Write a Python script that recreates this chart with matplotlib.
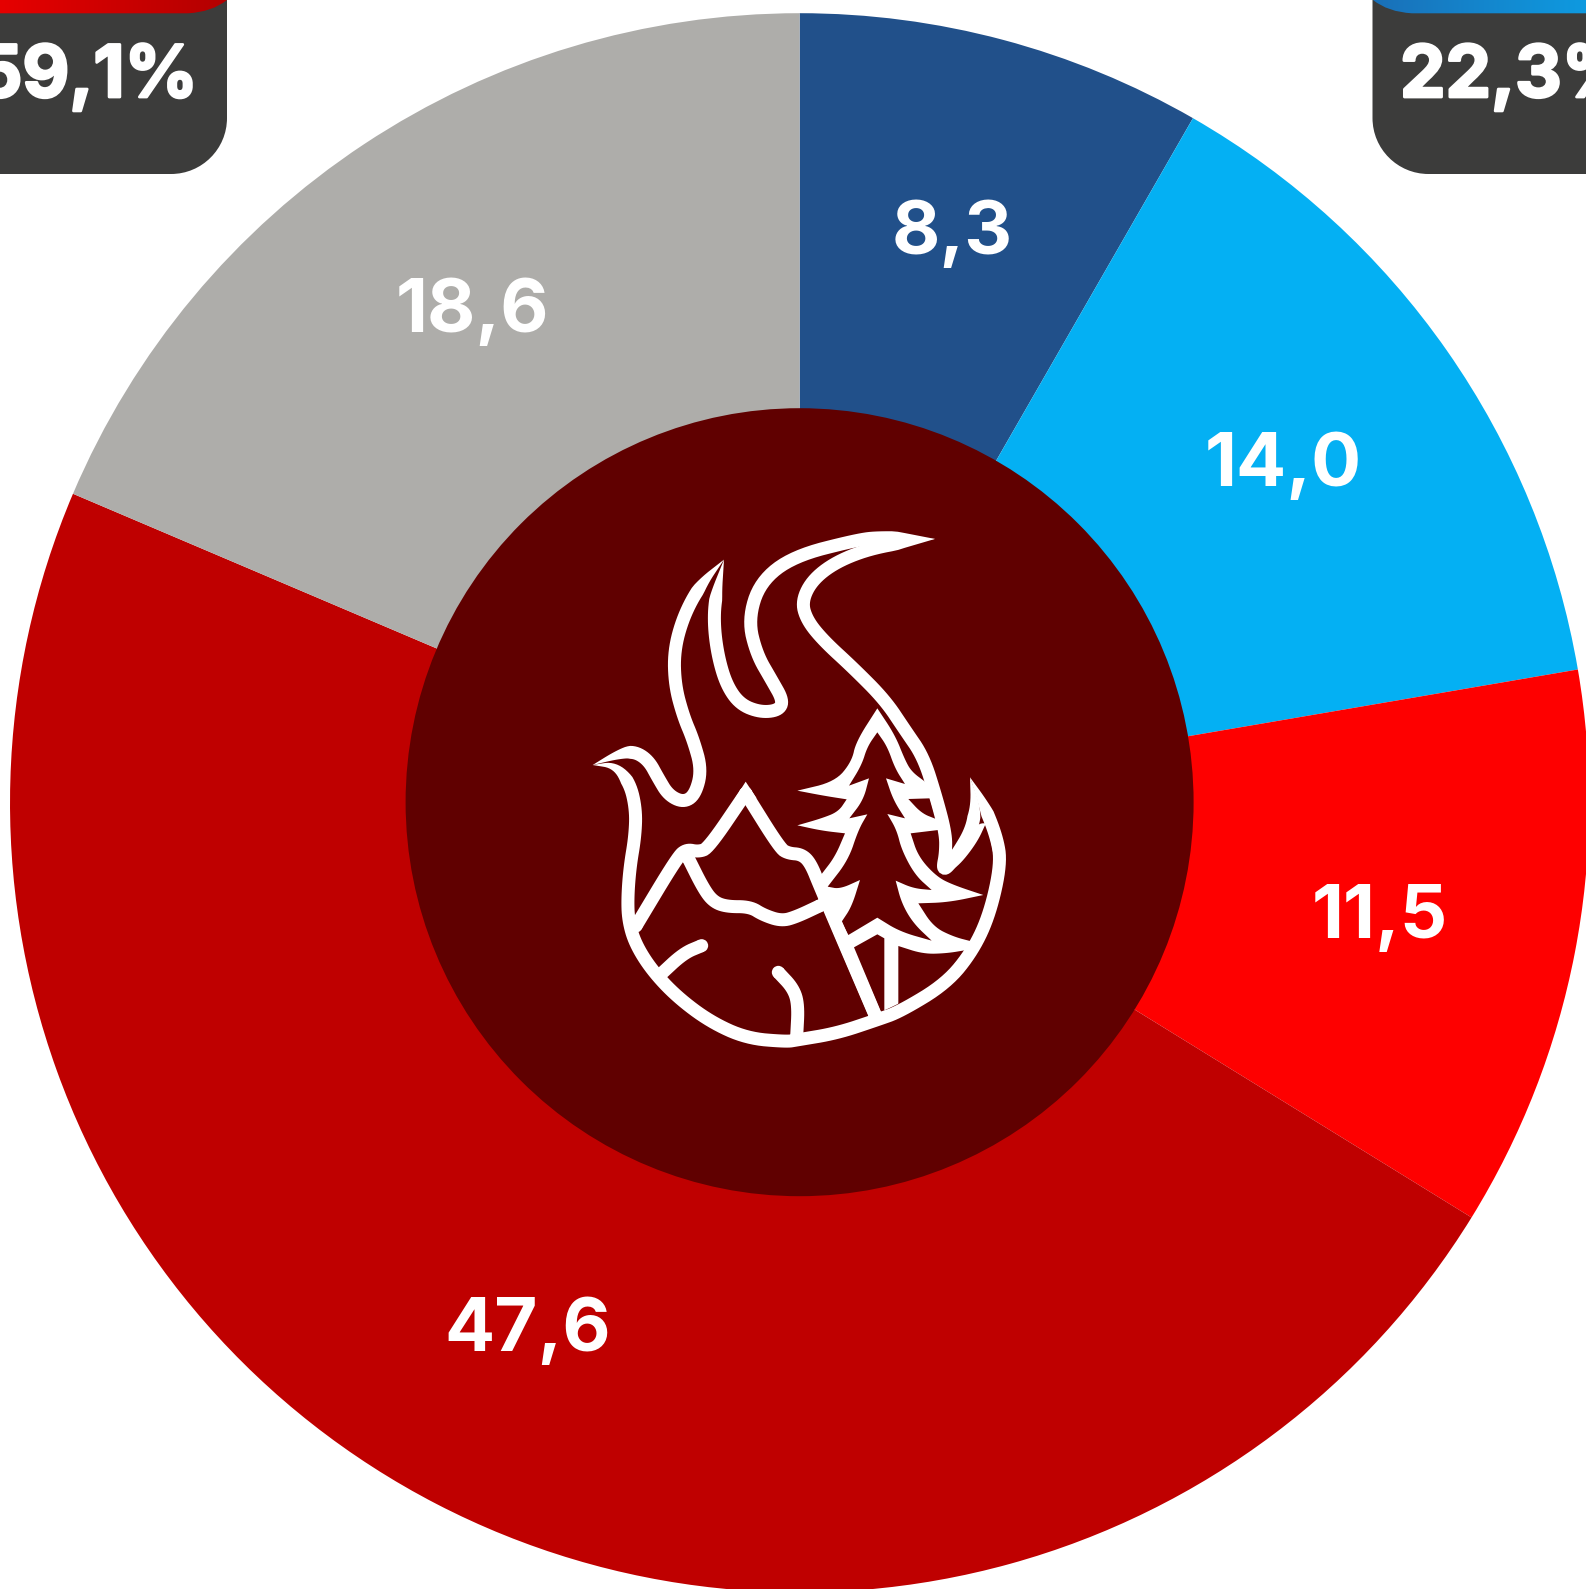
import numpy as np
import matplotlib
matplotlib.use("Agg")
import matplotlib.pyplot as plt
import matplotlib.patheffects as pe
from matplotlib.patches import Circle, PathPatch, Polygon
from matplotlib.path import Path

WIDTH = 1586
HEIGHT = 1589
FONT = ["Inter", "DejaVu Sans"]

# slices, clockwise from 12 o'clock
values = [8.3, 14.0, 11.5, 47.6, 18.6]
labels = ["8,3", "14,0", "11,5", "47,6", "18,6"]
colors = ["#21508a", "#04b0f3", "#fe0000", "#bf0000", "#aeadaa"]
totals = ["59,1%", "22,3%"]

CENTER = (799.6, 802.8)
OUTER_R = 789.6
INNER_R = 394
HOLE_COLOR = "#600000"
BOX_COLOR = "#3c3c3b"
STROKE = 13
TAPER = 40

# label positions in image pixels (center x, baseline y)
label_pos = [(952, 253.5), (1283.5, 486.5), (1380, 937.5), (528, 1351), (472.5, 331.5)]


def up(points):
    return [(580 + x / 3, 520 + y * 0.3444) for x, y in points]


def low(points):
    return [(580 + x / 3, 740 + y / 3) for x, y in points]


def tree(points):
    return [(780 + x / 3, 700 + y / 3) for x, y in points]


icon_strokes = [
    up([(1065, 55), (900, 50), (830, 58), (640, 105), (540, 180), (505, 290), (530, 390), (575, 465),
        (610, 525), (595, 553), (540, 558), (480, 535), (440, 480), (415, 400), (402, 310), (405, 230), (432, 115)]),
    up([(432, 115), (360, 190), (310, 280), (282, 380), (285, 480), (310, 570)])
    + low([(340, 0), (365, 90), (345, 165), (310, 187), (265, 165), (235, 115), (205, 60), (160, 33), (110, 45), (38, 75)]),
    low([(38, 75), (105, 75), (150, 130), (168, 210), (165, 290), (150, 380), (143, 470), (145, 540), (165, 610),
         (215, 690), (290, 770), (390, 845), (500, 895), (620, 905)])
    + tree([(50, 1020), (170, 1000), (290, 960), (360, 935), (500, 850), (580, 750), (630, 640), (663, 490),
            (650, 410), (610, 310), (570, 232)]),
    tree([(570, 232), (587, 320), (575, 390), (530, 465), (500, 505), (488, 505), (497, 460), (497, 400),
          (468, 290), (430, 170), (375, 90), (315, 0)])
    + up([(820, 430), (730, 350), (680, 290), (665, 235), (700, 170), (780, 115), (900, 75), (1065, 55)]),
    # mountains
    low([(168, 558), (293, 350), (320, 328), (355, 335), (385, 325), (497, 160)]),
    low([(497, 160), (600, 325), (625, 340), (665, 343), (692, 370), (720, 440)]) + tree([(285, 945)]),
    low([(325, 355), (370, 445), (400, 485), (440, 500), (510, 500), (550, 525), (605, 543), (650, 530), (720, 497)]),
    low([(240, 705), (310, 640), (365, 617)]),
    low([(595, 697), (640, 745), (655, 795), (650, 890)]),
]
# stroke ends that come to a point
icon_tips = up([(1065, 55), (432, 115)]) + low([(38, 75)]) + tree([(570, 232)])
# sharp peak of the mountain
icon_peak = low([(497, 125), (465, 175), (530, 175)])

# the tree is one white shape with dark cells cut back into it
tree_shape = tree([(292, 25), (228, 125), (215, 185), (165, 245), (52, 272), (130, 287), (200, 298), (175, 335), (125, 355),
                   (52, 376), (125, 392), (195, 400), (165, 470), (125, 522), (115, 600), (133, 635), (267, 950), (340, 920),
                   (430, 870), (520, 800), (600, 720), (650, 590), (663, 480), (632, 370), (587, 370), (550, 450),
                   (505, 490), (497, 400), (468, 290), (435, 245), (395, 215), (375, 180), (345, 105)])
tree_cells = [
    tree([(292, 97), (262, 140), (245, 195), (207, 257), (267, 235), (250, 300), (208, 355), (262, 343), (235, 390),
          (205, 480), (143, 560), (180, 567), (240, 540), (215, 620), (185, 665), (205, 705), (292, 653), (360, 695),
          (455, 722), (400, 670), (365, 610), (347, 542), (400, 565), (455, 570), (405, 525), (365, 450), (350, 390),
          (322, 342), (375, 355), (340, 300), (318, 235), (375, 252), (345, 205), (322, 140)]),
    tree([(385, 297), (450, 295), (468, 357), (425, 340)]),
    tree([(392, 400), (475, 390), (485, 450), (482, 490), (490, 518), (530, 505), (590, 430), (620, 365), (645, 480),
          (640, 540), (615, 650), (578, 725), (520, 710), (460, 680), (415, 610), (505, 607), (610, 585), (520, 555), (470, 530),
          (415, 470)]),
    tree([(222, 742), (292, 703), (313, 715), (313, 935), (303, 935)]),
    tree([(355, 738), (430, 762), (500, 760), (560, 750), (490, 830), (420, 880), (355, 915)]),
]
# points of the tree shapes that stay sharp when the outlines are rounded
tree_corners = tree([(292, 25), (52, 272), (200, 298), (52, 376), (195, 400), (125, 522), (115, 600), (133, 635), (267, 950),
                     (632, 370), (505, 490), (435, 245),
                     (292, 97), (207, 257), (267, 235), (208, 355), (262, 343), (143, 560), (240, 540), (185, 665),
                     (205, 705), (292, 653), (455, 722), (347, 542), (455, 570), (322, 342), (375, 355), (318, 235), (375, 252),
                     (385, 297), (450, 295), (468, 357), (392, 400), (475, 390), (620, 365), (578, 725), (415, 610), (610, 585),
                     (222, 742), (292, 703), (313, 715), (313, 935), (303, 935),
                     (355, 738), (560, 750), (355, 915)])


def smooth(points, rounds=3):
    pts = np.array(points, dtype=float)
    if len(pts) < 3:
        return pts
    for _ in range(rounds):
        q = 0.75 * pts[:-1] + 0.25 * pts[1:]
        r = 0.25 * pts[:-1] + 0.75 * pts[1:]
        mid = np.empty((q.shape[0] * 2, 2))
        mid[0::2] = q
        mid[1::2] = r
        pts = np.vstack([pts[0], mid, pts[-1]])
    return pts


def smooth_shape(points):
    # round each run between two corners, keep the corners themselves
    marks = [i for i, p in enumerate(points) if p in tree_corners]
    start = marks[0]
    ring = points[start:] + points[:start] + [points[start]]
    marks = [i for i, p in enumerate(ring) if p in tree_corners]
    parts = []
    for a, b in zip(marks[:-1], marks[1:]):
        parts.append(smooth(ring[a:b + 1])[:-1])
    return np.vstack(parts)


def flip(y):
    return HEIGHT - y


def to_axes(pts):
    pts = np.asarray(pts, dtype=float)
    return np.column_stack([pts[:, 0], flip(pts[:, 1])])


def draw_stroke(ax, points):
    xy = to_axes(smooth(points))
    s = np.concatenate([[0], np.cumsum(np.hypot(*np.diff(xy, axis=0).T))])
    half = np.full(len(xy), STROKE / 2)
    start_tip = points[0] in icon_tips
    end_tip = points[-1] in icon_tips
    if start_tip:
        half = np.minimum(half, STROKE / 2 * s / TAPER)
    if end_tip:
        half = np.minimum(half, STROKE / 2 * (s[-1] - s) / TAPER)
    d = np.gradient(xy, axis=0)
    d /= np.maximum(np.hypot(d[:, 0], d[:, 1]), 1e-9)[:, None]
    n = np.column_stack([-d[:, 1], d[:, 0]])
    outline = np.vstack([xy + n * half[:, None], (xy - n * half[:, None])[::-1]])
    ax.add_patch(Polygon(outline, closed=True, facecolor="white", edgecolor="none", zorder=10))
    for flag, p in [(start_tip, xy[0]), (end_tip, xy[-1])]:
        if not flag:
            ax.add_patch(Circle(p, STROKE / 2, facecolor="white", edgecolor="none", zorder=10))


def rounded_box(ax, x0, x1, y_bottom, r, round_right):
    # top and outer side run past the image, only the corner on the bottom shows
    k = r * 0.5523
    top = flip(-50)
    bot = flip(y_bottom)
    if round_right:
        verts = [(x0, top), (x1, top), (x1, bot + r), (x1, bot + r - k), (x1 - r + k, bot), (x1 - r, bot),
                 (x0, bot), (x0, top)]
    else:
        verts = [(x1, top), (x0, top), (x0, bot + r), (x0, bot + r - k), (x0 + r - k, bot), (x0 + r, bot),
                 (x1, bot), (x1, top)]
    codes = [Path.MOVETO, Path.LINETO, Path.LINETO, Path.CURVE4, Path.CURVE4, Path.CURVE4, Path.LINETO, Path.CLOSEPOLY]
    ax.add_patch(PathPatch(Path(verts, codes), facecolor=BOX_COLOR, edgecolor="none", zorder=5))


def gradient_strip(ax, verts, codes, left_color, right_color, x0, x1):
    patch = PathPatch(Path(verts, codes), facecolor="none", edgecolor="none")
    ax.add_patch(patch)
    c0 = np.array(matplotlib.colors.to_rgb(left_color))
    c1 = np.array(matplotlib.colors.to_rgb(right_color))
    t = np.linspace(0, 1, 256)[None, :, None]
    img = ax.imshow(c0 + (c1 - c0) * t, extent=(x0, x1, flip(14), flip(-1)),
                    aspect="auto", zorder=6)
    img.set_clip_path(patch)


fig = plt.figure(figsize=(WIDTH / 100, HEIGHT / 100), dpi=100)
ax = fig.add_axes([0, 0, 1, 1])

ax.pie(values, colors=colors, startangle=90, counterclock=False, radius=OUTER_R,
       center=(CENTER[0], flip(CENTER[1])), frame=True,
       wedgeprops={"linewidth": 0})
ax.add_patch(Circle((799.6, flip(802.2)), INNER_R, facecolor=HOLE_COLOR, edgecolor="none", zorder=3))

for text, (x, y) in zip(labels, label_pos):
    ax.text(x, flip(y), text, color="white", fontsize=53.5, fontweight="bold", family=FONT,
            ha="center", va="baseline", zorder=4)

# stat boxes in the top corners, both run off the edge
rounded_box(ax, -200, 227, 174, 56, True)
rounded_box(ax, 1372.5, 1800, 174, 56, False)

codes = [Path.MOVETO, Path.LINETO, Path.CURVE3, Path.CURVE3, Path.LINETO, Path.CLOSEPOLY]
gradient_strip(ax, [(-5, flip(13.3)), (188, flip(13.3)), (212, flip(12)), (227, flip(0)),
                    (-5, flip(0)), (-5, flip(13.3))], codes, "#e60000", "#b30000", 0, 227)
gradient_strip(ax, [(WIDTH + 5, flip(13.3)), (1412, flip(13.3)), (1388, flip(12)), (1373, flip(0)),
                    (WIDTH + 5, flip(0)), (WIDTH + 5, flip(13.3))], codes, "#1a70b8", "#0e9ae0", 1372, WIDTH)

heavy = [pe.withStroke(linewidth=2, foreground="white")]
ax.text(198, flip(97), totals[0], color="white", fontsize=52, fontweight="bold", family=FONT,
        ha="right", va="baseline", zorder=7, path_effects=heavy)
ax.text(1400, flip(97), totals[1], color="white", fontsize=52, fontweight="bold", family=FONT,
        ha="left", va="baseline", zorder=7, path_effects=heavy)

ax.add_patch(Polygon(to_axes(smooth_shape(tree_shape)), closed=True, facecolor="white", edgecolor="none", zorder=8))
for cell in tree_cells:
    ax.add_patch(Polygon(to_axes(smooth_shape(cell)), closed=True, facecolor=HOLE_COLOR, edgecolor="none", zorder=9))
for stroke in icon_strokes:
    draw_stroke(ax, stroke)
ax.add_patch(Polygon(to_axes(icon_peak), closed=True, facecolor="white", edgecolor="none", zorder=10))

ax.set_xlim(0, WIDTH)
ax.set_ylim(0, HEIGHT)
ax.set_aspect("equal")
ax.axis("off")

fig.savefig("out.png", dpi=100, facecolor="white")
